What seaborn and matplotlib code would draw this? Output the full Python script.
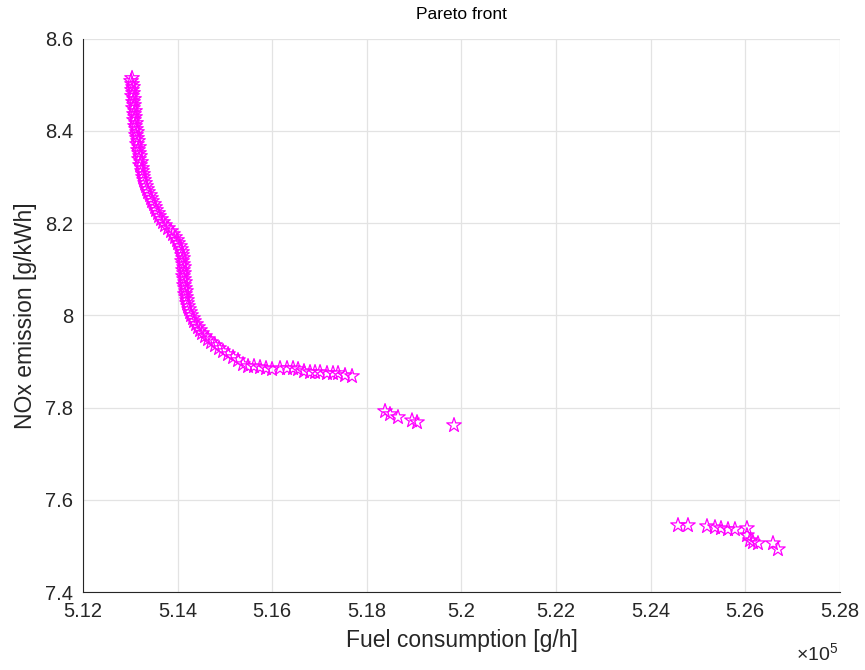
import matplotlib
matplotlib.use("Agg")
import matplotlib.pyplot as plt
import seaborn as sns
import pandas as pd

# Fuel consumption (x 1e5 g/h) and NOx emission (g/kWh)
fuel_main = [
    5.13036, 5.13015, 5.13036, 5.13057, 5.13036, 5.13057, 5.13036, 5.13078, 5.13057, 5.13078,
    5.13057, 5.13099, 5.13078, 5.13099, 5.13078, 5.13120, 5.13099, 5.13120, 5.13141, 5.13120,
    5.13141, 5.13163, 5.13141, 5.13184, 5.13163, 5.13184, 5.13205, 5.13184, 5.13226, 5.13205,
    5.13247, 5.13247, 5.13268, 5.13268, 5.13289, 5.13311, 5.13332, 5.13353, 5.13374, 5.13416,
    5.13437, 5.13458, 5.13501, 5.13522, 5.13543, 5.13585, 5.13606, 5.13649, 5.13691, 5.13733,
    5.13797, 5.13860, 5.13902, 5.13945, 5.13987, 5.14008, 5.14050, 5.14071, 5.14093, 5.14093,
    5.14114, 5.14093, 5.14114, 5.14135, 5.14114, 5.14135, 5.14114, 5.14135, 5.14156, 5.14135,
    5.14156, 5.14177, 5.14156, 5.14177, 5.14198, 5.14198, 5.14219, 5.14241, 5.14262, 5.14283,
    5.14325, 5.14346, 5.14389, 5.14431, 5.14473, 5.14515, 5.14579, 5.14642, 5.14706, 5.14790,
    5.14875, 5.14959, 5.15065, 5.15171, 5.15276, 5.15382, 5.15488, 5.15614, 5.15741, 5.15868,
    5.15995, 5.16164, 5.16312, 5.16439, 5.16545, 5.16671, 5.16798, 5.16904, 5.17010, 5.17157,
    5.17284, 5.17390, 5.17538, 5.17686,
]
nox_main = [
    8.5143, 8.5078, 8.5013, 8.4948, 8.4883, 8.4818, 8.4753, 8.4688, 8.4623, 8.4557,
    8.4492, 8.4427, 8.4362, 8.4297, 8.4232, 8.4167, 8.4102, 8.4037, 8.3972, 8.3907,
    8.3842, 8.3777, 8.3711, 8.3646, 8.3581, 8.3516, 8.3451, 8.3386, 8.3321, 8.3256,
    8.3191, 8.3126, 8.3061, 8.2996, 8.2931, 8.2866, 8.2800, 8.2735, 8.2670, 8.2605,
    8.2540, 8.2475, 8.2410, 8.2345, 8.2280, 8.2215, 8.2150, 8.2085, 8.2020, 8.1954,
    8.1889, 8.1824, 8.1759, 8.1694, 8.1629, 8.1564, 8.1499, 8.1434, 8.1369, 8.1304,
    8.1239, 8.1174, 8.1108, 8.1043, 8.0978, 8.0913, 8.0848, 8.0783, 8.0718, 8.0653,
    8.0588, 8.0523, 8.0458, 8.0393, 8.0328, 8.0262, 8.0197, 8.0132, 8.0067, 8.0002,
    7.9937, 7.9872, 7.9807, 7.9742, 7.9677, 7.9612, 7.9547, 7.9482, 7.9416, 7.9351,
    7.9286, 7.9221, 7.9156, 7.9091, 7.9026, 7.8939, 7.8896, 7.8896, 7.8874, 7.8852,
    7.8831, 7.8852, 7.8852, 7.8852, 7.8831, 7.8787, 7.8766, 7.8766, 7.8766, 7.8744,
    7.8744, 7.8744, 7.8701, 7.8679,
]
fuel_mid = [5.18384, 5.18489, 5.18658, 5.18954, 5.19060, 5.19842]
nox_mid = [7.7920, 7.7855, 7.7790, 7.7720, 7.7680, 7.7616]
fuel_right = [5.24577, 5.24788, 5.25190, 5.25359, 5.25486, 5.25634, 5.25781,
              5.26035, 5.26035, 5.26098, 5.26162, 5.26268, 5.26585, 5.26690]
nox_right = [7.5447, 7.5447, 7.5425, 7.5403, 7.5382, 7.5360, 7.5360,
             7.5382, 7.5230, 7.5121, 7.5078, 7.5056, 7.5056, 7.4926]

x_ticks = [5.12, 5.14, 5.16, 5.18, 5.20, 5.22, 5.24, 5.26, 5.28]
x_tick_labels = ["5.12", "5.14", "5.16", "5.18", "5.2", "5.22", "5.24", "5.26", "5.28"]
y_ticks = [7.4, 7.6, 7.8, 8.0, 8.2, 8.4, 8.6]
y_tick_labels = ["7.4", "7.6", "7.8", "8", "8.2", "8.4", "8.6"]

df = pd.DataFrame({
    "fuel": fuel_main + fuel_mid + fuel_right,
    "nox": nox_main + nox_mid + nox_right,
})

sns.set_style("white")
plt.rcParams["font.family"] = ["Liberation Sans", "DejaVu Sans"]
plt.rcParams["mathtext.fontset"] = "custom"
plt.rcParams["mathtext.rm"] = "Liberation Sans"

TXT = "#262626"
fig = plt.figure(figsize=(8.65, 6.70), dpi=100)
ax = fig.add_axes([0.096, 0.1164, 0.875, 0.826])

sns.scatterplot(data=df, x="fuel", y="nox", ax=ax, marker="*", s=120,
                facecolors="none", edgecolor="#ff00ff", linewidth=0.9)

ax.set_xlim(5.12, 5.28)
ax.set_ylim(7.4, 8.6)
ax.set_xticks(x_ticks)
ax.set_xticklabels(x_tick_labels)
ax.set_yticks(y_ticks)
ax.set_yticklabels(y_tick_labels)
ax.grid(True, color="#e3e3e3", linewidth=0.9)
ax.set_axisbelow(True)
for s in ["top", "right"]:
    ax.spines[s].set_visible(False)
for s in ["left", "bottom"]:
    ax.spines[s].set_color(TXT)
    ax.spines[s].set_linewidth(0.8)
ax.tick_params(direction="in", length=5, width=0.7, colors=TXT, labelsize=14.5, pad=7)
ax.set_xlabel("Fuel consumption [g/h]", fontsize=16.5, color=TXT, labelpad=6)
ax.set_ylabel("NOx emission [g/kWh]", fontsize=16.5, color=TXT, labelpad=6)
ax.set_title("Pareto front", fontsize=12.5, color="black", pad=14)
fig.text(0.969, 0.008, r"$\times10^5$", ha="right", va="bottom", fontsize=14, color=TXT)

fig.savefig("out.png", dpi=100)
